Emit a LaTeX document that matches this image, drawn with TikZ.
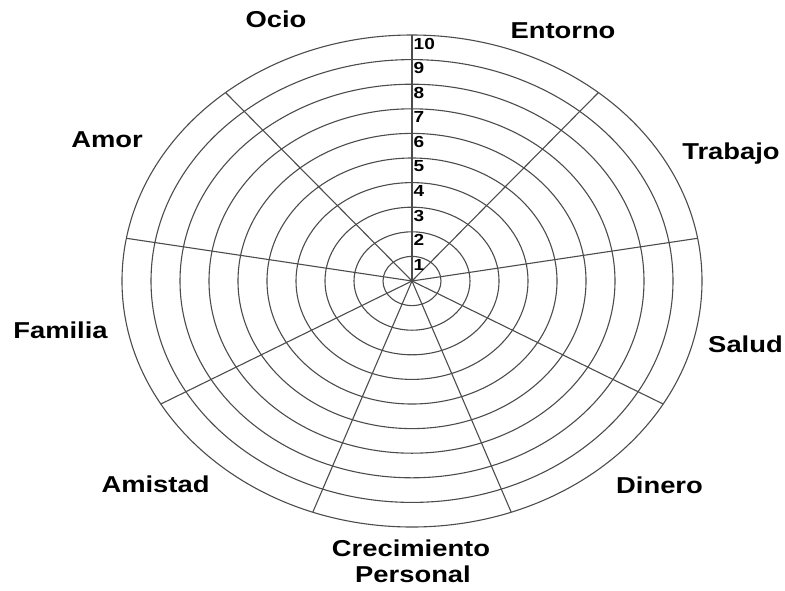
\documentclass[tikz,border=0pt]{standalone}
\usepackage{fontspec}
\setmainfont{Liberation Sans}
\usepackage{graphicx}
\usetikzlibrary{calc}
\newcommand{\hstretch}[1]{\scalebox{1.19}[1]{#1}}
\definecolor{wheel}{rgb}{0.3,0.3,0.3}
\tikzset{
  ring/.style={draw=wheel, line width=1.1pt},
  spoke/.style={draw=wheel, line width=1.1pt},
  lab/.style={font=\fontsize{23}{26}\selectfont\bfseries, anchor=base, inner sep=0pt},
  num/.style={font=\fontsize{16}{16}\selectfont\bfseries, anchor=west, inner sep=0.5pt}
}
\begin{document}
\begin{tikzpicture}[x=1pt,y=-1pt]
\useasboundingbox (0,0) rectangle (785,590);
\coordinate (c) at (412,281);
% rings
\foreach \k in {1,...,10}{
  \draw[ring] (c) ellipse [x radius={29*\k}, y radius={24.6*\k}];
}
% spokes
\foreach \a [count=\i] in {90,50,10,-30,-70,-110,-150,170,130}{
  \coordinate (s\i) at ($(c)+({290*cos(\a)},{-246*sin(\a)})$);
  \draw[spoke] (c) -- (s\i);
}
% numbers
\foreach \k in {1,...,10}{
  \node[num] (n\k) at ($(c)+(1,{-24.6*\k+8.5})$) {\hstretch{\k}};
}
% labels
\node[lab] (ocio) at (276,27) {\hstretch{Ocio}};
\node[lab] (entorno) at (563,38) {\hstretch{Entorno}};
\node[lab] (trabajo) at (731,159) {\hstretch{Trabajo}};
\node[lab] (salud) at (745.5,352) {\hstretch{Salud}};
\node[lab] (dinero) at (659.5,493) {\hstretch{Dinero}};
\node[lab] (crec) at (411,556) {\hstretch{Crecimiento}};
\node[lab] (pers) at (413,582) {\hstretch{Personal}};
\node[lab] (amistad) at (155.5,492) {\hstretch{Amistad}};
\node[lab] (familia) at (60.5,338) {\hstretch{Familia}};
\node[lab] (amor) at (107,147) {\hstretch{Amor}};
\end{tikzpicture}
\end{document}
